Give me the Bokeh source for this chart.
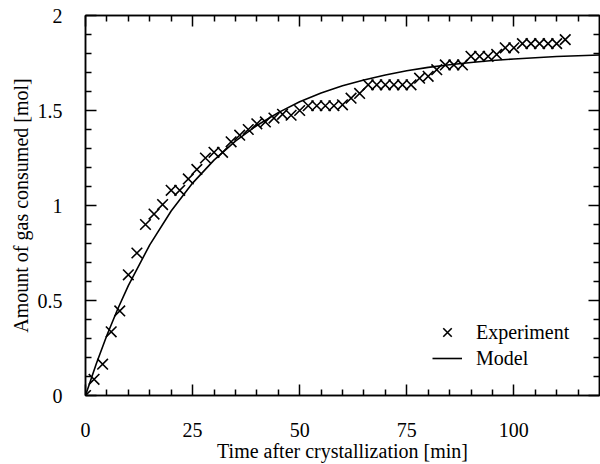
from bokeh.plotting import figure
from bokeh.models import (Range1d, LinearAxis, FixedTicker, CustomJSTickFormatter,
                          Legend, LegendItem, ColumnDataSource)
from bokeh.embed import file_html
from bokeh.resources import INLINE

# ---- data ----
time_exp = [0, 2, 4, 6, 8, 10, 12, 14, 16, 18, 20, 22, 24, 26, 28, 30, 32, 34, 36, 38,
            40, 42, 44, 46, 48, 50, 52, 54, 56, 58, 60, 62, 64, 66, 68, 70, 72, 74, 76,
            78, 80, 82, 84, 86, 88, 90, 92, 94, 96, 98, 100, 102, 104, 106, 108, 110, 112]
gas_exp = [0.0, 0.085, 0.165, 0.335, 0.445, 0.635, 0.75, 0.90, 0.955, 1.005, 1.08, 1.08,
           1.14, 1.19, 1.25, 1.28, 1.28, 1.335, 1.37, 1.40, 1.43, 1.44, 1.46, 1.48, 1.475,
           1.50, 1.525, 1.525, 1.525, 1.525, 1.53, 1.565, 1.59, 1.635, 1.635, 1.635, 1.635,
           1.635, 1.635, 1.67, 1.68, 1.715, 1.74, 1.74, 1.74, 1.785, 1.785, 1.785, 1.795,
           1.83, 1.83, 1.852, 1.852, 1.852, 1.852, 1.852, 1.873]

time_model = [0, 2.5, 5, 7.5, 10, 15, 20, 25, 30, 35, 40, 45, 50, 55, 60, 65, 70, 75, 80,
              85, 90, 95, 100, 105, 110, 115, 120]
gas_model = [0.0, 0.166, 0.317, 0.454, 0.578, 0.793, 0.971, 1.118, 1.239, 1.339, 1.421,
             1.489, 1.546, 1.592, 1.630, 1.661, 1.687, 1.709, 1.727, 1.741, 1.753, 1.763,
             1.771, 1.778, 1.784, 1.788, 1.792]

x_ticks = [0, 25, 50, 75, 100]
x_tick_labels = ["0", "25", "50", "75", "100"]
x_minor_ticks = [5, 10, 15, 20, 30, 35, 40, 45, 55, 60, 65, 70, 80, 85, 90, 95, 105, 110, 115]
y_ticks = [0, 0.5, 1, 1.5, 2]
y_tick_labels = ["0", "0.5", "1", "1.5", "2"]
y_minor_ticks = [0.1, 0.2, 0.3, 0.4, 0.6, 0.7, 0.8, 0.9, 1.1, 1.2, 1.3, 1.4,
                 1.6, 1.7, 1.8, 1.9]

x_title = "Time after crystallization [min]"
y_title = "Amount of gas consumed [mol]"
series_names = ["Experiment", "Model"]

FONT = "Liberation Serif"

p = figure(width=600, height=464, output_backend="svg", toolbar_location=None,
           x_range=Range1d(0, 120), y_range=Range1d(0, 2),
           x_axis_location=None, y_axis_location=None,
           min_border_left=85, min_border_right=1, min_border_top=15, min_border_bottom=66)
p.grid.visible = False
p.outline_line_color = "black"
p.outline_line_width = 1.5
p.background_fill_color = "white"
p.border_fill_color = "white"


def make_formatter(tick_vals, labels):
    return CustomJSTickFormatter(args=dict(tv=tick_vals, tl=labels), code="""
        for (let i = 0; i < tv.length; i++) {
            if (Math.abs(tv[i] - tick) < 1e-9) { return tl[i]; }
        }
        return "";
    """)


def style_axis(ax, show_labels):
    ax.axis_line_color = "black"
    ax.axis_line_width = 1.5
    ax.major_tick_line_color = "black"
    ax.major_tick_line_width = 1.5
    ax.minor_tick_line_color = "black"
    ax.minor_tick_line_width = 1.5
    ax.major_tick_in = 11
    ax.major_tick_out = 0
    ax.minor_tick_in = 6
    ax.minor_tick_out = 0
    if show_labels:
        ax.major_label_text_font = FONT
        ax.major_label_text_font_size = "20px"
        ax.major_label_text_color = "black"
        ax.axis_label_text_font = FONT
        ax.axis_label_text_font_size = "20px"
        ax.axis_label_text_font_style = "normal"
        ax.axis_label_text_color = "black"
    else:
        ax.major_label_text_font_size = "0px"
        ax.major_label_standoff = 0


xt = FixedTicker(ticks=x_ticks, minor_ticks=x_minor_ticks)
yt = FixedTicker(ticks=y_ticks, minor_ticks=y_minor_ticks)

bottom = LinearAxis(ticker=xt, formatter=make_formatter(x_ticks, x_tick_labels), axis_label=x_title)
style_axis(bottom, True)
bottom.major_label_standoff = 27
bottom.axis_label_standoff = 0
p.add_layout(bottom, "below")

left = LinearAxis(ticker=yt, formatter=make_formatter(y_ticks, y_tick_labels), axis_label=y_title)
style_axis(left, True)
left.major_label_standoff = 23
left.axis_label_standoff = 3
p.add_layout(left, "left")

top = LinearAxis(ticker=FixedTicker(ticks=x_ticks, minor_ticks=x_minor_ticks),
                 formatter=make_formatter(x_ticks, ["", "", "", "", ""]))
style_axis(top, False)
p.add_layout(top, "above")

right = LinearAxis(ticker=FixedTicker(ticks=y_ticks, minor_ticks=y_minor_ticks),
                   formatter=make_formatter(y_ticks, ["", "", "", "", ""]))
style_axis(right, False)
p.add_layout(right, "right")

src_exp = ColumnDataSource(dict(t=time_exp, v=gas_exp))
src_mod = ColumnDataSource(dict(t=time_model, v=gas_model))

r_mod = p.line("t", "v", source=src_mod, line_color="black", line_width=1.6)
r_exp = p.scatter("t", "v", source=src_exp, marker="x", size=15,
                  line_color="black", line_width=1.6)

common = dict(orientation="vertical", glyph_width=30, label_width=20,
              label_standoff=14, spacing=0, padding=0, margin=0,
              border_line_color=None, background_fill_alpha=0,
              label_text_font=FONT, label_text_font_size="20px",
              label_text_color="black")

legend_exp = Legend(items=[LegendItem(label=series_names[0], renderers=[r_exp])],
                    location=(347, 46), glyph_height=34, label_height=34, **common)
legend_mod = Legend(items=[LegendItem(label=series_names[1], renderers=[r_mod])],
                    location=(347, 25), glyph_height=24, label_height=24, **common)
p.add_layout(legend_exp)
p.add_layout(legend_mod)

open("out.html", "w").write(file_html(p, INLINE))
